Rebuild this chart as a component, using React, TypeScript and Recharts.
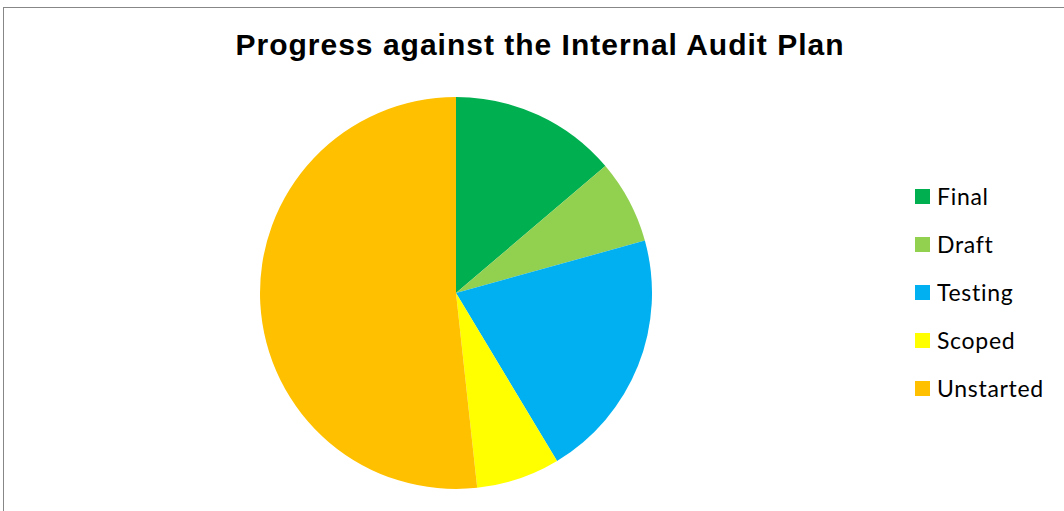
import { PieChart, Pie, Cell, Legend } from 'recharts';

const STATUSES = ['Final', 'Draft', 'Testing', 'Scoped', 'Unstarted'];
const AUDIT_COUNTS = [4, 2, 6, 2, 15];
const COLORS = ['#00B050', '#92D050', '#00B0F0', '#FFFF00', '#FFC000'];

const data = STATUSES.map((name, i) => ({ name, value: AUDIT_COUNTS[i] }));

function renderLegend() {
  return (
    <div style={{ fontFamily: 'Lato, "Open Sans", sans-serif', fontSize: 23, letterSpacing: 0.7, color: '#000' }}>
      {STATUSES.map((name, i) => (
        <div key={name} style={{ display: 'flex', alignItems: 'center', height: 48 }}>
          <div style={{ width: 15, height: 15, backgroundColor: COLORS[i], marginRight: 7 }}></div>
          <span>{name}</span>
        </div>
      ))}
    </div>
  );
}

export default function App() {
  return (
    <div style={{ position: 'absolute', left: 0, top: 0, width: 1064, height: 511, overflow: 'hidden', background: '#fff' }}>
      <div
        style={{
          position: 'absolute',
          left: 3,
          top: 7,
          width: 1100,
          height: 600,
          borderLeft: '1px solid #878787',
          borderTop: '1px solid #878787',
        }}
      ></div>
      <div
        style={{
          position: 'absolute',
          left: 0,
          top: 28,
          width: 1080,
          textAlign: 'center',
          fontFamily: '"Liberation Sans", Arial, sans-serif',
          fontWeight: 'bold',
          fontSize: 30,
          letterSpacing: 1,
          color: '#000',
        }}
      >
        Progress against the Internal Audit Plan
      </div>
      <div style={{ position: 'absolute', left: 0, top: 0 }}>
        <PieChart width={1064} height={511}>
          <Pie
            data={data}
            dataKey="value"
            nameKey="name"
            cx={451}
            cy={288}
            outerRadius={196}
            startAngle={90}
            endAngle={-270}
            stroke="none"
            isAnimationActive={false}
          >
            {data.map((entry, index) => (
              <Cell key={`cell-${index}`} fill={COLORS[index]} />
            ))}
          </Pie>
          <Legend
            layout="vertical"
            align="right"
            verticalAlign="top"
            content={renderLegend}
            wrapperStyle={{ left: 915, top: 172, width: 149 }}
          />
        </PieChart>
      </div>
    </div>
  );
}
